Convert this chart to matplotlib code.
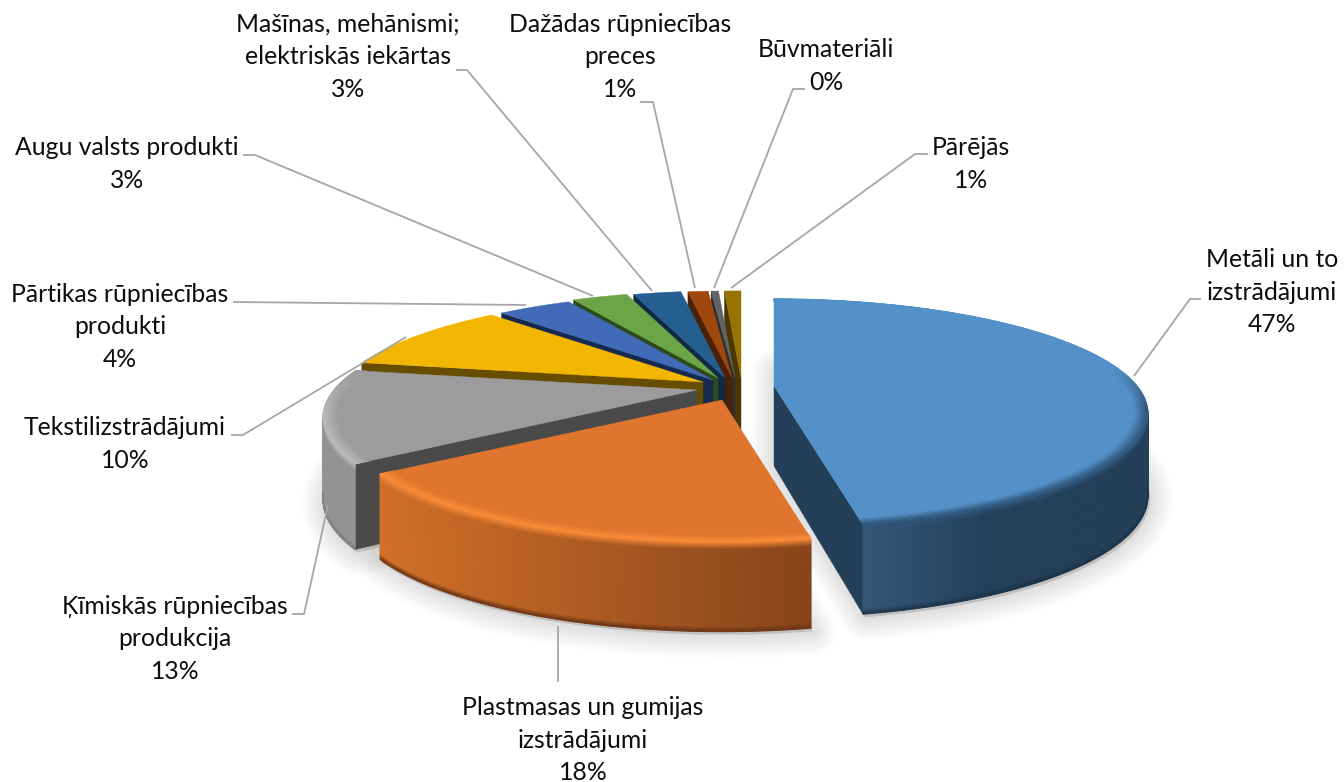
import numpy as np
import matplotlib.pyplot as plt
from matplotlib.collections import PolyCollection
from matplotlib.colors import to_rgb

plt.rcParams['font.family'] = ['Lato', 'DejaVu Sans']

# shares in percent (labels show them rounded)
values = [47.0, 18.0, 13.0, 10.0, 4.0, 3.0, 2.6, 1.1, 0.4, 0.9]
labels = [["Metāli un to", "izstrādājumi"],
          ["Plastmasas un gumijas", "izstrādājumi"],
          ["Ķīmiskās rūpniecības", "produkcija"],
          ["Tekstilizstrādājumi"],
          ["Pārtikas rūpniecības", "produkti"],
          ["Augu valsts produkti"],
          ["Mašīnas, mehānismi;", "elektriskās iekārtas"],
          ["Dažādas rūpniecības", "preces"],
          ["Būvmateriāli"],
          ["Pārējās"]]

top_colors = ['#5491C9', '#E0752D', '#9C9C9C', '#F3B600', '#416BB9',
              '#6BA545', '#255E91', '#9E480E', '#636363', '#997300']
cut_colors = ['#243F58', '#6A3414', '#4A4A4A', '#664D00', '#162A50',
              '#2E4A1D', '#0F2A42', '#4A2106', '#2E2E2E', '#4A3800']
wall_left = ['#36587A', '#D27029', '#939393', '#664D00', '#162A50',
             '#2E4A1D', '#0F2A42', '#4A2106', '#2E2E2E', '#4A3800']
wall_right = ['#243F58', '#87441A', '#939393', '#664D00', '#162A50',
              '#2E4A1D', '#0F2A42', '#4A2106', '#2E2E2E', '#4A3800']
rim_colors = ['#2F5578', '#FA8B38', '#BABABA', '#F3B600', '#416BB9',
              '#6BA545', '#255E91', '#9E480E', '#636363', '#997300']
base_colors = ['#1C3347', '#6A3414', '#808080', '#664D00', '#162A50',
               '#2E4A1D', '#0F2A42', '#4A2106', '#2E2E2E', '#4A3800']
grad_end = [0.45, 1, 1, 1, 1, 1, 1, 1, 1, 1]

# where each exploded slice has its tip, in figure pixels
apex_x = [774, 722, 697, 703, 713, 718, 725, 732, 735, 741]
apex_y = [386, 400, 390, 382, 380, 378, 378, 378, 378, 378]

rx, ry, persp = 363, 108, 0.24
depth0, depth_k = 80, 0.12

# leader lines in figure pixels
leaders = [[(1134, 376), (1190, 299), (1201, 299)],
           [(558, 626), (558, 682)],
           [(328, 505), (304, 614), (292, 614)],
           [(406, 337), (243, 435), (231, 435)],
           [(526, 305), (233, 302)],
           [(593, 296), (255, 155), (243, 155)],
           [(652, 291), (467, 70), (456, 70)],
           [(695, 288), (653, 102), (640, 102)],
           [(714, 288), (793, 89), (805, 89)],
           [(731, 288), (915, 154), (928, 154)]]

label_x = [1272, 583, 175, 125, 120, 127, 348, 620, 826, 971]
label_y = [259, 707, 606, 427, 294, 147, 24, 24, 49, 147]
line_step = 32.5
draw_order = [9, 8, 7, 6, 5, 4, 3, 2, 0, 1]


def project(i, theta, r=1.0):
    t = np.radians(theta)
    u = r * np.sin(t)
    v = -r * np.cos(t)
    s = 1 / (1 - persp * v)
    return apex_x[i] + rx * u * s, apex_y[i] + ry * v * s


def depth(theta):
    return depth0 * (1 - depth_k * np.cos(np.radians(theta)))


def mix(a, b, t):
    a, b = np.array(to_rgb(a)), np.array(to_rgb(b))
    return a + (b - a) * np.clip(t, 0, 1)


def strip_polys(x0, y0, x1, y1):
    # quads between two rows of points
    return [[(x0[j], y0[j]), (x0[j + 1], y0[j + 1]), (x1[j + 1], y1[j + 1]), (x1[j], y1[j])]
            for j in range(len(x0) - 1)]


edges = np.concatenate([[0], np.cumsum(values)]) / np.sum(values) * 360

fig = plt.figure(figsize=(13.44, 7.82), dpi=100)
ax = fig.add_axes([0, 0, 1, 1])
ax.set_xlim(0, 1344)
ax.set_ylim(782, 0)
ax.axis('off')

# soft shadow under the slices
for i in range(3):
    th = np.linspace(edges[i], edges[i + 1], 120)
    x, y = project(i, th)
    y = y + depth(th) + 3
    xs = np.concatenate([[apex_x[i]], x + 2])
    ys = np.concatenate([[apex_y[i] + depth0], y])
    for lw in np.linspace(34, 2, 16):
        ax.fill(xs, ys, color='black', alpha=0.009, lw=lw, joinstyle='round', zorder=1)

z = 2
for i in draw_order:
    th = np.linspace(edges[i], edges[i + 1], 160)

    # cut side of the slice (the big blue one shows its other side, orange none)
    cut = edges[i + 1] if i == 0 else edges[i]
    if i != 1:
        cx, cy = project(i, cut)
        ax.fill([apex_x[i], cx, cx, apex_x[i]],
                [apex_y[i], cy, cy + depth(cut), apex_y[i] + depth(90)],
                color=cut_colors[i], lw=0.3, zorder=z)

    # outer wall, only from the widest point of the ellipse to the front
    mask = -np.cos(np.radians(th)) > 0.2
    if mask.sum() > 1:
        tw = th[mask]
        x, y = project(i, tw)
        d = depth(tw)
        frac = (x - x.min()) / (x.max() - x.min()) / grad_end[i]
        rows = np.linspace(0, 1, 61)
        polys, cols = [], []
        for f0, f1 in zip(rows[:-1], rows[1:]):
            fm = (f0 + f1) / 2
            segs = strip_polys(x, y + f0 * d, x, y + f1 * d)
            for j, seg in enumerate(segs):
                p = fm * d[j]
                wall = mix(wall_left[i], wall_right[i], frac[j])
                if p < 8:
                    c = mix(rim_colors[i], wall, p / 8)
                elif p > d[j] - 5:
                    c = mix(wall, base_colors[i], (p - d[j] + 5) / 5)
                else:
                    c = wall
                polys.append(seg)
                cols.append(c)
        # no snapping, flat quads at the front would jump to whole pixels
        ax.add_collection(PolyCollection(polys, facecolors=cols, edgecolors=cols,
                                         linewidths=0.7, zorder=z + 0.1, snap=False))

    # top face
    x, y = project(i, th)
    ax.fill(np.concatenate([[apex_x[i]], x]), np.concatenate([[apex_y[i]], y]),
            color=top_colors[i], lw=0.3, zorder=z + 0.2)

    # bevel along the rim
    if mask.sum() > 1:
        weight = np.clip((-np.cos(np.radians(th)) + 0.2) / 0.4, 0, 1)
        radii = np.linspace(0.965, 1, 7)
        polys, cols = [], []
        for k in range(len(radii) - 1):
            x0, y0 = project(i, th, radii[k])
            x1, y1 = project(i, th, radii[k + 1])
            t = (k + 0.5) / (len(radii) - 1)
            for j, seg in enumerate(strip_polys(x0, y0, x1, y1)):
                polys.append(seg)
                cols.append(mix(top_colors[i], rim_colors[i], t * weight[j]))
        ax.add_collection(PolyCollection(polys, facecolors=cols, edgecolors=cols,
                                         linewidths=0.8, zorder=z + 0.3, snap=False))
    z += 1

for pts in leaders:
    ax.plot([p[0] for p in pts], [p[1] for p in pts], color='#A6A6A6', lw=1.3,
            solid_capstyle='butt', zorder=30)

for i in range(len(values)):
    lines = labels[i] + ["{:.0f}%".format(values[i])]
    for n, line in enumerate(lines):
        ax.text(label_x[i], label_y[i] + n * line_step + 8, line, fontsize=17.8,
                color='#0D0D0D', ha='center', va='baseline', zorder=40)

plt.savefig('out.png', dpi=100)
